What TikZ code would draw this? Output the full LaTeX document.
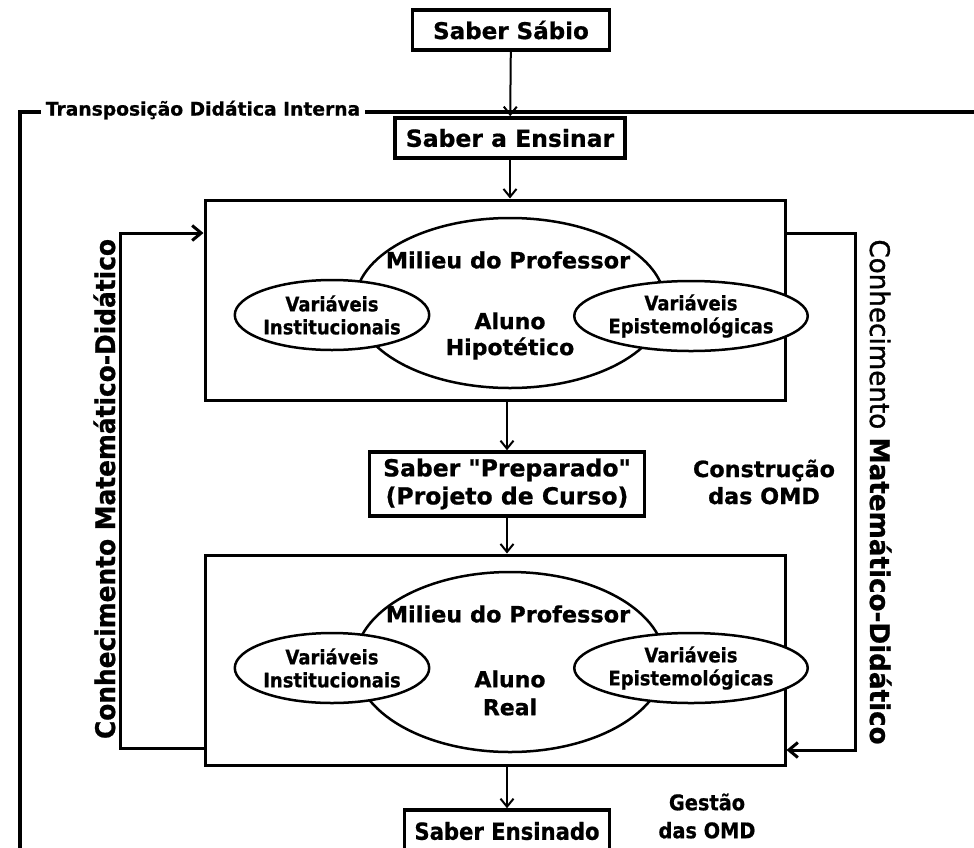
\documentclass[tikz,border=0pt]{standalone}
\usepackage{fontspec}
\setmainfont{DejaVu Sans}[Ligatures=TeXOff,BoldFeatures={FakeBold=0.8}]
\newfontfamily\tah{DejaVu Sans}[Ligatures=TeXOff,FakeStretch=0.9,BoldFeatures={FakeBold=0.8}]
\newfontfamily\tahl{DejaVu Sans}[Ligatures=TeXOff,FakeStretch=0.92,BoldFeatures={FakeBold=0.8}]
\newfontfamily\tahr{DejaVu Sans}[Ligatures=TeXOff,FakeStretch=0.97,FakeBold=1.2,BoldFeatures={FakeBold=0.8}]
\usetikzlibrary{arrows.meta,shapes.geometric}
\begin{document}
\begin{tikzpicture}[x=1pt,y=-1pt,
  box/.style={draw,line width=3.5pt,inner sep=0pt,align=center,fill=white},
  bigbox/.style={draw,line width=3pt,inner sep=0pt},
  bigell/.style={draw,ellipse,line width=2.5pt,inner sep=0pt},
  smallell/.style={draw,ellipse,line width=2.5pt,inner sep=0pt,fill=white,align=center,
    font=\tah\bfseries\fontsize{20}{23}\selectfont},
  flow/.style={line width=2pt,-{Straight Barb[length=8pt,width=13pt,line width=2pt]}},
  fbarrow/.style={line width=3pt,-{Straight Barb[length=9pt,width=15pt,line width=3pt]}},
  lbl/.style={inner sep=0pt,align=center},
]
\clip (0,0) rectangle (974,847);
\fill[white] (0,0) rectangle (974,847);

% frame of internal didactic transposition
\node[lbl,inner xsep=5pt,font=\bfseries\fontsize{18.7}{22}\selectfont] (tdi) at (203,110) {Transposição Didática Interna};
\coordinate (f0) at (20,860);
\coordinate (f1) at (20,112);
\coordinate (f2) at (980,112);
\draw[line width=4pt] (f0) -- (f1) -- (tdi.west |- f1);
\draw[line width=4pt] (tdi.east |- f1) -- (f2);

% chain of boxes
\node[box,minimum width=197pt,minimum height=40pt,font=\bfseries\fontsize{23}{28}\selectfont] (sabio) at (511,30) {Saber Sábio};
\node[box,minimum width=230pt,minimum height=40pt,font=\bfseries\fontsize{23.5}{28}\selectfont] (ensinar) at (510,138) {Saber a Ensinar};

\node[bigbox,minimum width=580pt,minimum height=200pt] (hyp) at (495,300) {};
\node[bigell,minimum width=310pt,minimum height=170pt] (m1) at (510,303) {};
\node[smallell,minimum width=160pt,minimum height=70pt] (vi1) at (332,315) {Variáveis\\Institucionais};
\node[smallell,minimum width=158pt,minimum height=70pt] (ve1) at (691,316) {Variáveis\\Epistemológicas};
\node[lbl,font=\bfseries\fontsize{22.4}{30}\selectfont] (mp1) at (508,260) {Milieu do Professor};
\node[lbl,font=\bfseries\fontsize{22}{26}\selectfont] (ah) at (510,336) {Aluno\\Hipotético};

\node[box,minimum width=275pt,minimum height=64pt,font=\bfseries\fontsize{23.5}{28}\selectfont] (prep) at (507,484) {Saber "Preparado"\\(Projeto de Curso)};
\node[lbl,font=\bfseries\fontsize{22.3}{27}\selectfont] (omd1) at (764,482) {Construção\\das OMD};

\node[bigbox,minimum width=580pt,minimum height=210pt] (real) at (495,660) {};
\node[bigell,minimum width=310pt,minimum height=180pt] (m2) at (510,662) {};
\node[smallell,minimum width=160pt,minimum height=70pt] (vi2) at (332,668) {Variáveis\\Institucionais};
\node[smallell,minimum width=158pt,minimum height=70pt] (ve2) at (691,668) {Variáveis\\Epistemológicas};
\node[lbl,font=\bfseries\fontsize{22.4}{30}\selectfont] (mp2) at (508,614) {Milieu do Professor};
\node[lbl,font=\bfseries\fontsize{22}{28}\selectfont] (ar) at (510,693) {Aluno\\Real};

\node[box,minimum width=205pt,minimum height=42pt,font=\tah\bfseries\fontsize{23.5}{28}\selectfont] (ens) at (507,831) {Saber Ensinado};
\node[lbl,font=\tah\bfseries\fontsize{21.5}{28}\selectfont] (omd2) at (707,816) {Gestão\\das OMD};

% flow arrows
\draw[flow] (sabio) -- (ensinar);
\draw[flow] (ensinar) -- (ensinar |- hyp.north);
\draw[flow] (prep |- hyp.south) -- (prep);
\draw[flow] (prep) -- (prep |- real.north);
\draw[flow] (ens |- real.south) -- (ens);

% feedback loops
\coordinate (lb) at (120,748);
\coordinate (lt) at (120,233);
\coordinate (rt) at (855,233);
\coordinate (rb) at (855,750);
\draw[fbarrow] (real.west |- lb) -- (lb) -- (lt) -- (hyp.west |- lt);
\draw[fbarrow] (hyp.east |- rt) -- (rt) -- (rb) -- (real.east |- rb);

\node[lbl,rotate=90,anchor=base,font=\tahl\bfseries\fontsize{27}{30}\selectfont] (kl) at (115,489) {Conhecimento Matemático-Didático};
\node[lbl,rotate=-90,anchor=base,font=\tahr\fontsize{27}{30}\selectfont] (kr) at (870,492) {Conhecimento \textbf{Matemático-Didático}};
\end{tikzpicture}
\end{document}
